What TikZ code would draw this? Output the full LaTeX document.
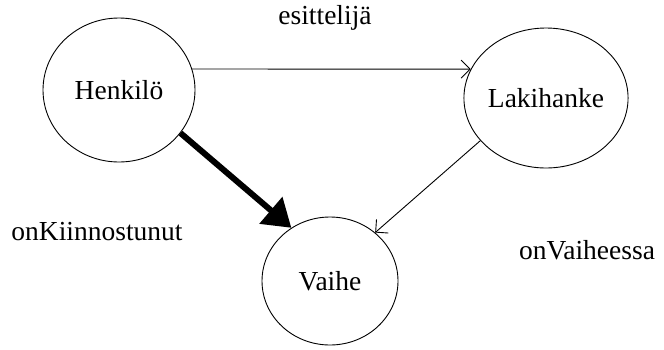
\documentclass[tikz,border=0pt]{standalone}
\usepackage{fontspec}
\setmainfont{Liberation Serif}
\usetikzlibrary{shapes.geometric,arrows.meta}
\begin{document}
\begin{tikzpicture}[x=1pt,y=-1pt,
  ent/.style={draw, ellipse, line width=0.9pt, inner sep=0pt, font=\fontsize{27.5}{32}\selectfont},
  lbl/.style={inner sep=0pt, font=\fontsize{27.5}{32}\selectfont},
  thin/.style={line width=0.9pt, -{Straight Barb[length=9pt,width=18pt,line width=0.9pt]}},
  thick/.style={line width=6pt, -{Triangle[length=27pt,width=34pt]}}]
\useasboundingbox (0,0) rectangle (664,349);
\fill[white] (0,0) rectangle (664,349);
\node[ent, minimum width=152pt, minimum height=144pt] (h) at (119,90) {Henkilö};
\node[ent, minimum width=162pt, minimum height=140pt] (l) at (546,98) {Lakihanke};
\node[ent, minimum width=136pt, minimum height=128pt] (v) at (330,281) {Vaihe};
\node[lbl] (t1) at (325,18) {esittelijä};
\node[lbl] (t2) at (97,232) {onKiinnostunut};
\node[lbl] (t3) at (587,250) {onVaiheessa};
\draw[thin] (h.16) -- (l.159);
\draw[thick] (h.-35) -- (v.126);
\draw[thin] (l.-147) -- (v.47);
\end{tikzpicture}
\end{document}
